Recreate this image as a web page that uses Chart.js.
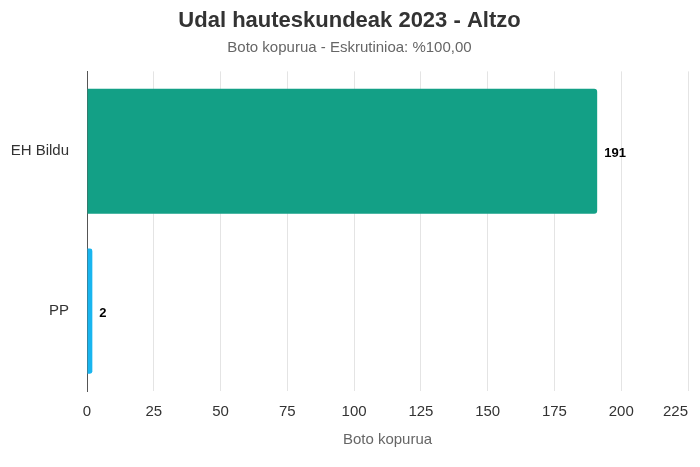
<!DOCTYPE html>
<html>
<head>
<meta charset="utf-8">
<script src="https://cdn.jsdelivr.net/npm/chart.js@4"></script>
<style>
  body { margin: 0; background: #fff; }
  #wrap { width: 700px; height: 467px; }
</style>
</head>
<body>
<div id="wrap"><canvas id="chart"></canvas></div>
<script>
const parties = ["EH Bildu", "PP"];
const votes = [191, 2];
const partyColors = ["#13a086", "#19b5ef"];
const xTicks = [0, 25, 50, 75, 100, 125, 150, 175, 200, 225];

const FONT = "'Liberation Sans', Arial, sans-serif";
Chart.defaults.font.family = FONT;

// draw the vote count just right of each bar
const valueLabels = {
  id: "valueLabels",
  afterDatasetsDraw(chart) {
    const ctx = chart.ctx;
    const meta = chart.getDatasetMeta(0);
    ctx.save();
    ctx.font = "bold 13px " + FONT;
    ctx.fillStyle = "#000";
    ctx.textBaseline = "middle";
    meta.data.forEach((bar, i) => {
      ctx.fillText(String(votes[i]), bar.x + 7, bar.y + 2);
    });
    ctx.restore();
  }
};

// keep the last x label inside the canvas (right-aligned on its gridline)
const lastTickInside = {
  id: "lastTickInside",
  beforeDraw(chart) {
    const items = chart.scales.x.getLabelItems();
    if (items.length) items[items.length - 1].options.textAlign = "right";
  }
};

new Chart(document.getElementById("chart"), {
  type: "bar",
  data: {
    labels: parties,
    datasets: [{
      data: votes,
      backgroundColor: partyColors,
      borderRadius: 3,
      borderSkipped: "start",
      barPercentage: 0.87,
      categoryPercentage: 0.9
    }]
  },
  options: {
    indexAxis: "y",
    responsive: true,
    maintainAspectRatio: false,
    animation: false,
    layout: { padding: { left: 11, right: 12, top: 8, bottom: 14 } },
    plugins: {
      legend: { display: false },
      tooltip: { enabled: false },
      title: {
        display: true,
        text: "Udal hauteskundeak 2023 - Altzo",
        color: "#333",
        font: { size: 22, weight: "bold" },
        padding: { top: 0, bottom: 4 }
      },
      subtitle: {
        display: true,
        text: "Boto kopurua - Eskrutinioa: %100,00",
        color: "#666",
        font: { size: 15 },
        padding: { top: 0, bottom: 15 }
      }
    },
    scales: {
      x: {
        min: 0,
        max: 225,
        afterBuildTicks(axis) { axis.ticks = xTicks.map(v => ({ value: v })); },
        afterFit(axis) {
          axis.height = 62;
          axis.paddingLeft = 0;
          axis.paddingRight = 0;
        },
        grid: { color: "#e4e4e4", drawTicks: false },
        border: { display: false },
        ticks: { color: "#333", font: { size: 15 }, padding: 12, maxRotation: 0 },
        title: { display: true, text: "Boto kopurua", color: "#666", font: { size: 15 }, padding: { top: 7, bottom: 4 } }
      },
      y: {
        afterFit(axis) { axis.width = 76; },
        grid: { display: false, drawTicks: false },
        border: { display: true, color: "#555", width: 1 },
        ticks: { color: "#333", font: { size: 15 }, padding: 18 }
      }
    }
  },
  plugins: [valueLabels, lastTickInside]
});
</script>
</body>
</html>
